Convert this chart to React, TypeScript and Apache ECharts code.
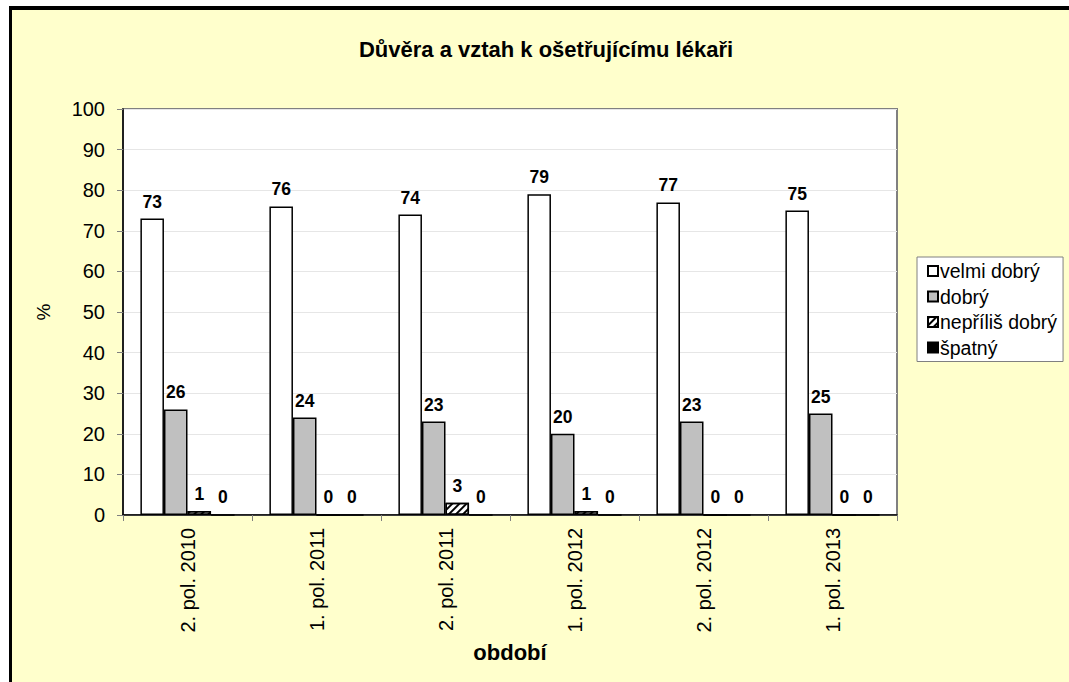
import React, { useEffect, useRef } from "react";
import * as echarts from "echarts";

const categories = ["2. pol. 2010", "1. pol. 2011", "2. pol. 2011", "1. pol. 2012", "2. pol. 2012", "1. pol. 2013"];
const velmiDobry = [73, 76, 74, 79, 77, 75];
const dobry = [26, 24, 23, 20, 23, 25];
const neprilisDobry = [1, 0, 3, 1, 0, 0];
const spatny = [0, 0, 0, 0, 0, 0];
const seriesNames = ["velmi dobrý", "dobrý", "nepříliš dobrý", "špatný"];
const titleText = "Důvěra a vztah k ošetřujícímu lékaři";

const FONT = "Liberation Sans, Arial, sans-serif";

export default function App() {
  const ref = useRef<HTMLDivElement>(null);
  useEffect(() => {
    if (!ref.current) return;
    const chart = echarts.init(ref.current, undefined, { renderer: "svg" });
    const label = {
      show: true,
      position: "top" as const,
      distance: 8,
      color: "#000",
      fontWeight: "bold" as const,
      fontSize: 17.5,
      fontFamily: FONT,
    };
    const mk = (name: string, data: number[], color: string, extra: any = {}) => ({
      name,
      type: "bar",
      data,
      barGap: "0%",
      barCategoryGap: "27%",
      itemStyle: { color, borderColor: "#000", borderWidth: 1.5, ...extra },
      label,
    });
    chart.setOption({
      animation: false,
      backgroundColor: "#fff",
      textStyle: { fontFamily: FONT },
      graphic: [
        { type: "rect", z: -10, shape: { x: 12, y: 10, width: 1100, height: 700 }, style: { fill: "#FFFFCC" } },
        { type: "rect", z: -9, shape: { x: 9, y: 6, width: 3, height: 700 }, style: { fill: "#000" } },
        { type: "rect", z: -9, shape: { x: 9, y: 6, width: 1100, height: 4 }, style: { fill: "#000" } },
        {
          type: "text",
          x: 546,
          y: 49,
          style: {
            text: titleText,
            textAlign: "center",
            textVerticalAlign: "middle",
            fontSize: 22,
            fontWeight: "bold",
            fontFamily: FONT,
            fill: "#000",
          },
        },
      ],
      legend: {
        orient: "vertical",
        left: 917,
        top: 257,
        padding: [4, 6, 4, 10],
        itemGap: 5.5,
        itemWidth: 10,
        itemHeight: 10,
        icon: "rect",
        backgroundColor: "#fff",
        borderColor: "#808080",
        borderWidth: 1,
        borderRadius: 0,
        textStyle: { fontSize: 19.5, color: "#000", fontFamily: FONT, padding: [0, 0, 0, -3], lineHeight: 20 },
        data: seriesNames,
      },
      grid: {
        left: 123,
        top: 109,
        right: 172,
        bottom: 167,
        show: true,
        backgroundColor: "#fff",
        borderColor: "#808080",
        borderWidth: 2,
      },
      xAxis: {
        type: "category",
        data: categories,
        name: "období",
        nameLocation: "middle",
        nameGap: 126,
        nameTextStyle: { fontSize: 22, fontWeight: "bold", color: "#000", fontFamily: FONT },
        axisLine: { lineStyle: { color: "#000", width: 1.5 } },
        axisTick: { show: true, length: 6, lineStyle: { color: "#808080" } },
        axisLabel: { rotate: 90, margin: 13, fontSize: 20, color: "#000", fontFamily: FONT },
      },
      yAxis: {
        type: "value",
        min: 0,
        max: 100,
        interval: 10,
        name: "%",
        nameLocation: "middle",
        nameRotate: 90,
        nameGap: 70,
        nameTextStyle: { fontSize: 19, color: "#000", fontFamily: FONT },
        axisLine: { show: true, lineStyle: { color: "#000", width: 1.5 } },
        axisTick: { show: true, length: 6, lineStyle: { color: "#808080" } },
        axisLabel: { margin: 18, fontSize: 20, color: "#000", fontFamily: FONT },
        splitLine: { show: true, lineStyle: { color: "#e6e6e6", width: 1 } },
      },
      series: [
        mk(seriesNames[0], velmiDobry, "#ffffff"),
        mk(seriesNames[1], dobry, "#c0c0c0"),
        mk(seriesNames[2], neprilisDobry, "#ffffff", {
          decal: {
            symbol: "rect",
            symbolSize: 1,
            dashArrayX: [1, 0],
            dashArrayY: [1.5, 2.5],
            rotation: -Math.PI / 4,
            color: "#000",
          },
        }),
        mk(seriesNames[3], spatny, "#000000"),
      ],
    });
    return () => chart.dispose();
  }, []);
  return <div ref={ref} style={{ position: "absolute", left: 0, top: 0, width: 1069, height: 682 }} />;
}
